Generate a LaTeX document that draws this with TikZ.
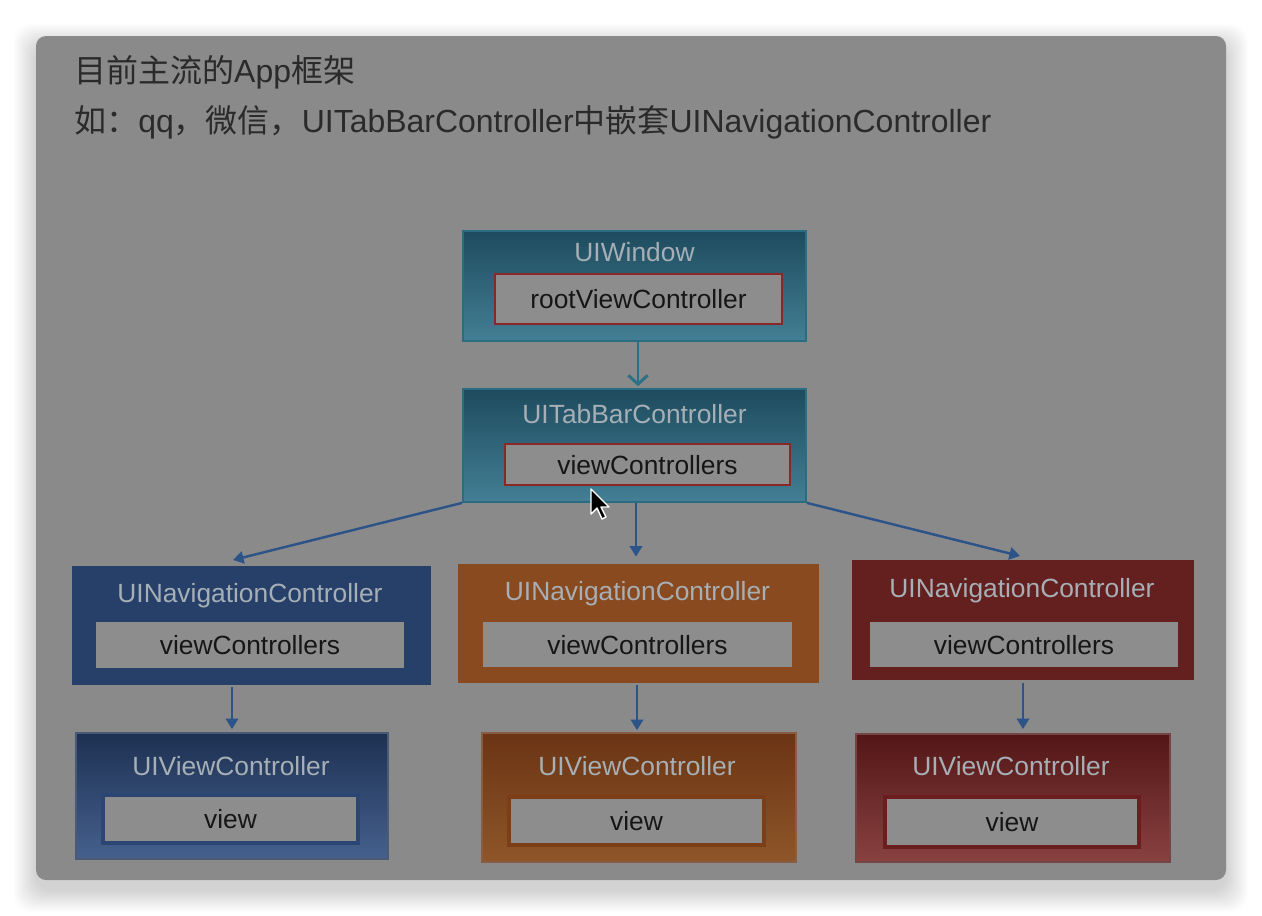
\documentclass[tikz,border=0pt]{standalone}
\usepackage{fontspec}
\setmainfont{Liberation Sans}
\newfontfamily\cjk{Noto Sans CJK SC}
\usetikzlibrary{arrows.meta}

\definecolor{cardgray}{HTML}{8A8A8A}
\definecolor{innergray}{HTML}{8D8D8D}
\definecolor{titletext}{HTML}{2A2A2A}
\definecolor{headgray}{HTML}{A6AFB5}
\definecolor{darktext}{HTML}{161616}
\definecolor{framered}{HTML}{8A2828}
\definecolor{tealtop}{HTML}{1E4B5E}
\definecolor{tealbot}{HTML}{437F95}
\definecolor{tealedge}{HTML}{2C6C83}
\definecolor{navblue}{HTML}{26406A}
\definecolor{navorange}{HTML}{8A4A1F}
\definecolor{navred}{HTML}{64201F}
\definecolor{vcbluetop}{HTML}{1D3152}
\definecolor{vcbluebot}{HTML}{46608E}
\definecolor{vcblueedge}{HTML}{2C4673}
\definecolor{vcorangetop}{HTML}{6B3414}
\definecolor{vcorangebot}{HTML}{8E5629}
\definecolor{vcorangeedge}{HTML}{7B3E16}
\definecolor{vcredtop}{HTML}{531616}
\definecolor{vcredbot}{HTML}{894141}
\definecolor{vcrededge}{HTML}{6A1E1E}
\definecolor{linkblue}{HTML}{2D5488}
\definecolor{linkteal}{HTML}{2E6F88}

\newcommand{\myfonttitle}[1]{
\fontsize{18.2}{22}\selectfont{#1}
}

\begin{document}
\begin{tikzpicture}[x=0.02cm,y=-0.02cm,
  boxfont/.style={font=\fontsize{15}{18}\selectfont},
  tealbox/.style={rectangle, top color=tealtop, bottom color=tealbot, draw=tealedge, line width=1pt},
  navbox/.style={rectangle, fill=#1, draw=none},
  vcbox/.style 2 args={rectangle, top color=#1, bottom color=#2, draw=#1!80!white, line width=1pt},
  redframe/.style={boxfont, rectangle, fill=innergray, draw=framered, line width=1.6pt, text=darktext},
  plainframe/.style={boxfont, rectangle, fill=innergray, draw=none, text=darktext},
  vcframe/.style={boxfont, rectangle, fill=innergray, draw=#1, line width=1.8pt, text=darktext},
  boxhead/.style={boxfont, text=headgray, text height=1.1em, text depth=0pt, inner sep=0pt},
  boxtext/.style={text height=1.1em, text depth=0pt},
  link/.style={draw=linkblue, line width=1.4pt, -{Triangle[length=6pt,width=7pt]}},
  tealink/.style={draw=linkteal, line width=1.7pt, -{Straight Barb[length=5pt,width=11pt]}}]
\useasboundingbox (0,0) rectangle (1262,916);
%Card with its shadow
\fill[white] (0,0) rectangle (1262,916);
\foreach \i in {1,...,22} {
  \fill[black, opacity=0.007, rounded corners=0.35cm] (36-\i,36-\i+10) rectangle (1226+\i,880+\i+10);
}
\fill[cardgray, rounded corners=0.2cm] (36,36) rectangle (1226,880);
%Heading lines
\node [anchor=base west, inner sep=0pt, text=titletext] (head1) at (74,82) {\myfonttitle{{\cjk 目前主流的}App{\cjk 框架}}};
\node [anchor=base west, inner sep=0pt, text=titletext] (head2) at (74,132) {\myfonttitle{{\cjk 如：}qq{\cjk ，微信，}UITabBarController{\cjk 中嵌套}UINavigationController}};
%UIWindow
\node [tealbox, minimum width=6.86cm, minimum height=2.2cm] (win) at (634.5,286) {};
\node [boxhead] at (634.5,252) {UIWindow};
\node [redframe, boxtext, minimum width=5.74cm, minimum height=1.0cm] (winroot) at (638.5,299) {rootViewController};
%UITabBarController
\node [tealbox, minimum width=6.86cm, minimum height=2.26cm] (tab) at (634.5,445.5) {};
\node [boxhead] at (634.5,414) {UITabBarController};
\node [redframe, boxtext, minimum width=5.7cm, minimum height=0.82cm] (tabvcs) at (647.5,464.5) {viewControllers};
%Navigation controllers
\node [navbox=navblue, minimum width=7.18cm, minimum height=2.38cm] (nav1) at (251.5,625.5) {};
\node [boxhead] at (250,593) {UINavigationController};
\node [plainframe, boxtext, minimum width=6.16cm, minimum height=0.92cm] (nav1vcs) at (250,645) {viewControllers};
\node [navbox=navorange, minimum width=7.22cm, minimum height=2.38cm] (nav2) at (638.5,623.5) {};
\node [boxhead] at (637.5,591) {UINavigationController};
\node [plainframe, boxtext, minimum width=6.18cm, minimum height=0.9cm] (nav2vcs) at (637.5,644.5) {viewControllers};
\node [navbox=navred, minimum width=6.84cm, minimum height=2.4cm] (nav3) at (1023,620) {};
\node [boxhead] at (1022,588) {UINavigationController};
\node [plainframe, boxtext, minimum width=6.16cm, minimum height=0.9cm] (nav3vcs) at (1024,644.5) {viewControllers};
%View controllers
\node [vcbox={vcbluetop}{vcbluebot}, minimum width=6.24cm, minimum height=2.52cm] (vc1) at (232,796) {};
\node [boxhead] at (231,766) {UIViewController};
\node [vcframe=vcblueedge, boxtext, minimum width=5.1cm, minimum height=0.96cm] (vc1view) at (230.5,819) {view};
\node [vcbox={vcorangetop}{vcorangebot}, minimum width=6.28cm, minimum height=2.58cm] (vc2) at (639,797.5) {};
\node [boxhead] at (637,766) {UIViewController};
\node [vcframe=vcorangeedge, boxtext, minimum width=5.1cm, minimum height=0.96cm] (vc2view) at (636.5,821) {view};
\node [vcbox={vcredtop}{vcredbot}, minimum width=6.28cm, minimum height=2.56cm] (vc3) at (1013,798) {};
\node [boxhead] at (1011,766) {UIViewController};
\node [vcframe=vcrededge, boxtext, minimum width=5.08cm, minimum height=1.0cm] (vc3view) at (1012,822) {view};
%Connectors
\coordinate (nav1in) at (233,560);
\coordinate (nav3in) at (1020,556);
\draw [tealink] ([xshift=0.07cm]win.south) -- ([xshift=0.07cm,yshift=0.04cm]tab.north);
\draw [link] (tab.south west) -- (nav1in);
\draw [link] ([xshift=0.03cm]tab.south) -- ([xshift=0.03cm,yshift=0.14cm]tab.south |- nav2.north);
\draw [link] (tab.south east) -- (nav3in);
\draw [link, shorten <=0.04cm, shorten >=0.06cm] (vc1.north |- nav1.south) -- (vc1.north);
\draw [link, shorten <=0.04cm, shorten >=0.04cm] ([xshift=-0.03cm]nav2.south) -- ([xshift=-0.03cm]nav2.south |- vc2.north);
\draw [link, shorten <=0.06cm, shorten >=0.08cm] (nav3.south) -- (nav3.south |- vc3.north);
%Mouse pointer
\draw [fill=black, draw=white, line width=0.8pt, line join=round] (591,489) -- (591,514) -- (597,508) -- (602,519) -- (606,517) -- (601,507) -- (609,507) -- cycle;
\end{tikzpicture}
\end{document}
